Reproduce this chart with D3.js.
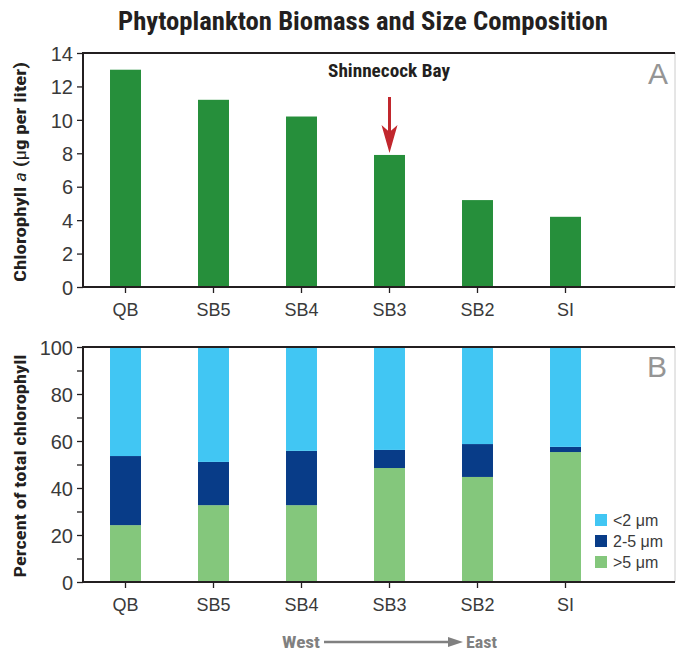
<!DOCTYPE html>
<html><head><meta charset="utf-8">
<script src="https://cdn.jsdelivr.net/npm/d3@7"></script>
<style>body{margin:0;background:#fff}</style>
</head><body>
<script>
const sites = ["QB","SB5","SB4","SB3","SB2","SI"];
const chlA = [13.0, 11.2, 10.2, 7.9, 5.2, 4.2];
const pctGt5 = [24.2, 32.7, 32.7, 48.5, 44.7, 55.3];
const pct2to5 = [29.4, 18.4, 23.1, 7.7, 14.0, 2.2];
const pctLt2 = [46.4, 48.9, 44.2, 43.8, 41.3, 42.5];
const sizeClasses = ["<2 μm","2-5 μm",">5 μm"];
const ticksA = [0,2,4,6,8,10,12,14];
const ticksB = [0,10,20,30,40,50,60,70,80,90,100];

const W=676,H=654;
const cond = "'Liberation Sans Narrow','Roboto Condensed','Liberation Sans',Arial,sans-serif";
const reg = "'Liberation Sans',Arial,sans-serif";
const svg = d3.select("body").append("svg").attr("width",W).attr("height",H);

const x0=83, x1=675;
const x = d3.scaleBand().domain(sites).range([81.5,609.5]).paddingInner(0.648).paddingOuter(0.324);

svg.append("text").attr("x",363).attr("y",30).attr("text-anchor","middle")
  .attr("font-family",cond).attr("font-weight","bold").attr("font-size",26).attr("fill","#231f20")
  .attr("textLength",490).attr("lengthAdjust","spacingAndGlyphs")
  .text("Phytoplankton Biomass and Size Composition");

function frame(top,bottom,y,ticks,labelEvery){
  const g=svg.append("g");
  const ax=d3.axisLeft(y).tickValues(ticks).tickSize(6).tickSizeOuter(0)
    .tickFormat(d=> (labelEvery && d%labelEvery!==0)?"":d);
  const ga=g.append("g").attr("transform",`translate(${x0},0)`).call(ax);
  ga.select(".domain").remove();
  ga.selectAll(".tick line").attr("stroke","#231f20").attr("stroke-width",1.3);
  ga.selectAll(".tick text").attr("font-family",reg).attr("font-size",20).attr("fill","#3a3a3a").attr("x",-10).attr("dy","0.36em");
  const xa=d3.axisBottom(x).tickSize(6).tickSizeOuter(0);
  const gx=g.append("g").attr("transform",`translate(0,${bottom})`).call(xa);
  gx.select(".domain").remove();
  gx.selectAll(".tick line").attr("stroke","#231f20").attr("stroke-width",1.3);
  gx.selectAll(".tick text").attr("font-family",reg).attr("font-size",18).attr("fill","#3a3a3a").attr("y",16).attr("dy","0.71em");
  return g;
}
function borders(top,bottom){
  svg.append("line").attr("x1",x1).attr("x2",x1).attr("y1",top).attr("y2",bottom).attr("stroke","#ccc").attr("stroke-width",1);
  svg.append("line").attr("x1",x0).attr("x2",x1).attr("y1",top).attr("y2",top).attr("stroke","#231f20").attr("stroke-width",2);
  svg.append("line").attr("x1",x0).attr("x2",x1).attr("y1",bottom).attr("y2",bottom).attr("stroke","#231f20").attr("stroke-width",2);
  svg.append("line").attr("x1",x0).attr("x2",x0).attr("y1",top-1).attr("y2",bottom+1).attr("stroke","#231f20").attr("stroke-width",2);
}

// Panel A
const topA=53,botA=287;
const yA=d3.scaleLinear().domain([0,14]).range([botA,topA]);
frame(topA,botA,yA,ticksA,0);
svg.append("g").selectAll("rect").data(sites).join("rect")
  .attr("x",d=>x(d)).attr("width",x.bandwidth())
  .attr("y",(d,i)=>yA(chlA[i])).attr("height",(d,i)=>botA-yA(chlA[i]))
  .attr("fill","#268f3b");
borders(topA,botA);
svg.append("text").attr("x",668).attr("y",84).attr("text-anchor","end").attr("font-family",reg)
  .attr("font-size",30).attr("fill","#959595").text("A");
svg.append("text").attr("x",389).attr("y",77).attr("text-anchor","middle").attr("font-family",cond)
  .attr("font-weight","bold").attr("font-size",18).attr("fill","#231f20")
  .attr("textLength",122).attr("lengthAdjust","spacingAndGlyphs").text("Shinnecock Bay");
const ax3 = x("SB3")+x.bandwidth()/2;
svg.append("line").attr("x1",ax3).attr("x2",ax3).attr("y1",97).attr("y2",135).attr("stroke","#c1272d").attr("stroke-width",3);
svg.append("path").attr("d",`M${ax3-8},${125} L${ax3},${153} L${ax3+8},${125} L${ax3},${132} Z`).attr("fill","#c1272d");
const ytA=svg.append("text").attr("transform","translate(26,172) rotate(-90)").attr("text-anchor","middle")
  .attr("font-family",cond).attr("font-weight","bold").attr("font-size",17).attr("fill","#231f20")
  .attr("textLength",220).attr("lengthAdjust","spacingAndGlyphs");
ytA.append("tspan").text("Chlorophyll ");
ytA.append("tspan").attr("font-style","italic").attr("font-weight","normal").text("a");
ytA.append("tspan").text(" (");
ytA.append("tspan").attr("font-weight","normal").text("μ");
ytA.append("tspan").text("g per liter)");

// Panel B
const topB=347,botB=582;
const yB=d3.scaleLinear().domain([0,100]).range([botB,topB]);
frame(topB,botB,yB,ticksB,20);
const table = sites.map((s,i)=>({site:s, ">5 μm":pctGt5[i], "2-5 μm":pct2to5[i], "<2 μm":pctLt2[i]}));
const stack = d3.stack().keys([">5 μm","2-5 μm","<2 μm"])(table);
const color = d3.scaleOrdinal().domain(sizeClasses).range(["#41c6f3","#083c88","#84c77c"]);
svg.append("g").selectAll("g").data(stack).join("g").attr("fill",d=>color(d.key))
  .selectAll("rect").data(d=>d).join("rect")
  .attr("x",d=>x(d.data.site)).attr("width",x.bandwidth())
  .attr("y",d=>yB(Math.min(100,d[1]))).attr("height",d=>yB(d[0])-yB(Math.min(100,d[1])));
borders(topB,botB);
svg.append("text").attr("x",667).attr("y",377).attr("text-anchor","end").attr("font-family",reg)
  .attr("font-size",30).attr("fill","#959595").text("B");
svg.append("text").attr("transform","translate(26,466) rotate(-90)").attr("text-anchor","middle")
  .attr("font-family",cond).attr("font-weight","bold").attr("font-size",17).attr("fill","#231f20")
  .attr("textLength",223).attr("lengthAdjust","spacingAndGlyphs").text("Percent of total chlorophyll");

const lg=svg.append("g").selectAll("g").data(sizeClasses).join("g")
  .attr("transform",(d,i)=>`translate(595,${514+i*21})`);
lg.append("rect").attr("width",12).attr("height",12).attr("fill",d=>color(d));
lg.append("text").attr("x",18).attr("y",6).attr("dy","0.36em").attr("font-family",reg)
  .attr("font-size",16).attr("fill","#3a3a3a").text(d=>d);

svg.append("text").attr("x",282).attr("y",648).attr("font-family",cond).attr("font-weight","bold")
  .attr("font-size",17).attr("fill","#808080").attr("textLength",38).attr("lengthAdjust","spacingAndGlyphs").text("West");
svg.append("line").attr("x1",324).attr("x2",452).attr("y1",642).attr("y2",642).attr("stroke","#808080").attr("stroke-width",2.5);
svg.append("path").attr("d","M448,637 L463,642 L448,647 Z").attr("fill","#808080");
svg.append("text").attr("x",466).attr("y",648).attr("font-family",cond).attr("font-weight","bold")
  .attr("font-size",17).attr("fill","#808080").attr("textLength",31).attr("lengthAdjust","spacingAndGlyphs").text("East");
</script>
</body></html>
